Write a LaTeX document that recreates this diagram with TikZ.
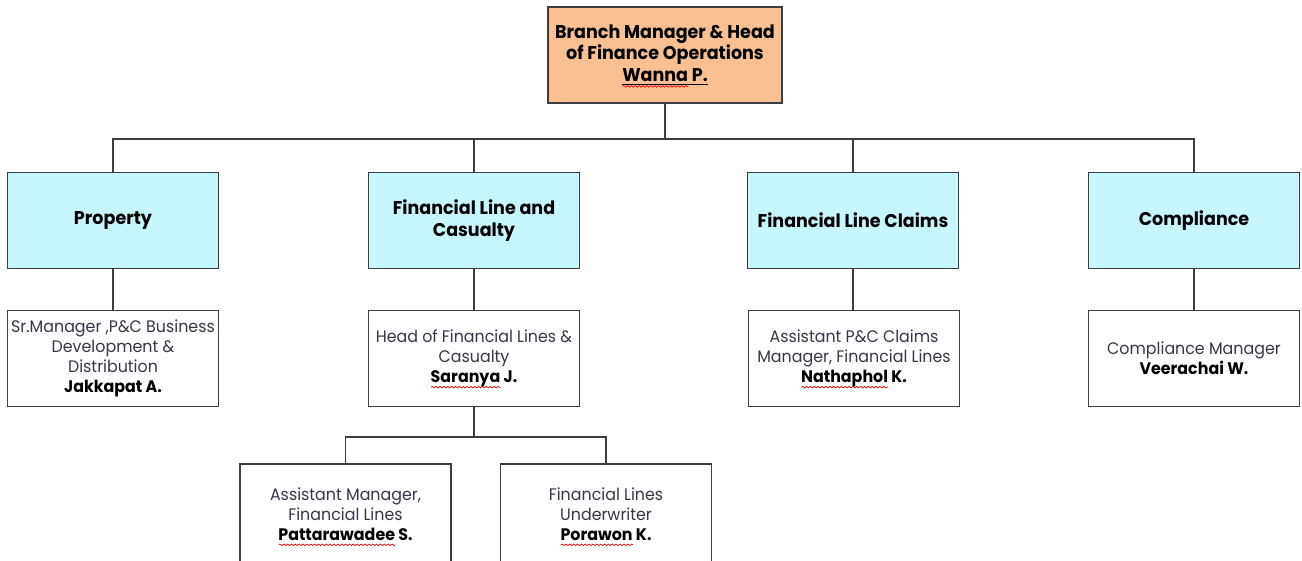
\documentclass[tikz,border=0pt]{standalone}
\usepackage{fontspec}
\setmainfont{Poppins}[FakeStretch=0.95]
\usetikzlibrary{positioning,decorations.pathmorphing}
\definecolor{peach}{RGB}{250,192,146}
\definecolor{paleteal}{RGB}{197,247,252}
\definecolor{edgegray}{RGB}{62,62,62}
\definecolor{rolegray}{RGB}{58,54,72}
\tikzset{
  box/.style={draw=edgegray,line width=1.1pt,minimum width=4.22cm,minimum height=1.92cm,align=center,inner sep=1.5pt},
  chief/.style={box,fill=peach,minimum width=4.68cm,font=\bfseries\fontsize{10.5}{12.5}\selectfont},
  unit/.style={box,fill=paleteal,font=\bfseries\fontsize{10.5}{12.5}\selectfont},
  role/.style={box,fill=white,font=\fontsize{9.5}{11.4}\selectfont\color{rolegray}},
  link/.style={draw=edgegray,line width=1.1pt},
  squiggle/.style={draw=red!85!black,line width=0.4pt,decorate,decoration={snake,amplitude=0.45pt,segment length=2.2pt}}
}
\newlength{\wavelen}
\newcommand{\Who}[1]{{\color{black}\bfseries #1}}
\newcommand{\Wavy}[2]{\settowidth{\wavelen}{#1}\leavevmode\rlap{\smash{\raisebox{-3.2pt}{\tikz\draw[squiggle] (0,0) -- (\wavelen,0);}}}#2}

\begin{document}
\begin{tikzpicture}
  \useasboundingbox (0,0) rectangle (26.04,11.2);
  \clip (0,0) rectangle (26.04,11.2);

  % Top of the chart
  \node[chief] (head) at (13.3,10.1) {Branch Manager \& Head\\of Finance Operations\\\Wavy{Wanna}{\underline{Wanna P.}}};

  % Departments
  \node[unit] (prop) at (2.26,6.79) {Property};
  \node[unit] (flc) at (9.48,6.79) {Financial Line and\\Casualty};
  \node[unit] (claims) at (17.06,6.79) {Financial Line Claims};
  \node[unit] (comp) at (23.88,6.79) {Compliance};

  % Managers
  \node[role] (propmgr) at (2.26,4.03) {Sr.Manager ,P\&C Business\\Development \&\\Distribution\\\Who{Jakkapat A.}};
  \node[role] (flcmgr) at (9.48,4.03) {Head of Financial Lines \&\\Casualty\\\Who{\Wavy{Saranya}{Saranya J.}}};
  \node[role] (claimsmgr) at (17.08,4.03) {Assistant P\&C Claims\\Manager, Financial Lines\\\Who{\Wavy{Nathaphol}{Nathaphol K.}}};
  \node[role] (compmgr) at (23.88,4.03) {Compliance Manager\\\Who{Veerachai W.}};

  % Financial lines team
  \node[role,minimum height=2.0cm] (flasst) at (6.91,0.92) {Assistant Manager,\\Financial Lines\\\Who{\Wavy{Pattarawadee}{Pattarawadee S.}}};
  \node[role,minimum height=2.0cm] (flunder) at (12.12,0.92) {Financial Lines\\Underwriter\\\Who{\Wavy{Porawon}{Porawon K.}}};

  \coordinate (bus) at (13.3,8.42);
  \coordinate (subbus) at (9.48,2.46);

  \draw[link] (head) -- (bus);
  \draw[link] (bus) -| (prop.north);
  \draw[link] (bus) -| (flc.north);
  \draw[link] (bus) -| (claims.north);
  \draw[link] (bus) -| (comp.north);

  \draw[link] (prop) -- (propmgr);
  \draw[link] (flc) -- (flcmgr);
  \draw[link] (claims.south) -- (claims.south|-claimsmgr.north);
  \draw[link] (comp) -- (compmgr);

  \draw[link] (flcmgr) -- (subbus);
  \draw[link] (subbus) -| (flasst.north);
  \draw[link] (subbus) -| (flunder.north);
\end{tikzpicture}
\end{document}
